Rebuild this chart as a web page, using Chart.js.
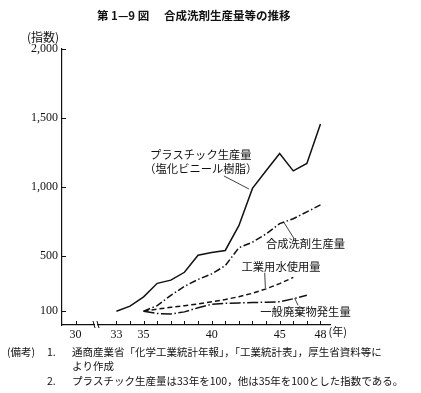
<!DOCTYPE html>
<html>
<head>
<meta charset="utf-8">
<script src="https://cdn.jsdelivr.net/npm/chart.js@4"></script>
<style>
html, body { margin: 0; padding: 0; background: #fff; }
#wrap { width: 421px; height: 393px; position: relative; }
</style>
</head>
<body>
<div id="wrap"><canvas id="myChart"></canvas></div>
<script>
// years (昭和) and index values
const years = [33, 34, 35, 36, 37, 38, 39, 40, 41, 42, 43, 44, 45, 46, 47, 48];
const plastics  = [100, 137, 204, 302, 325, 382, 506, 525, 540, 720, 990, 1118, 1243, 1117, 1171, 1456];
const detergent = [null, null, 100, 140, 215, 280, 330, 370, 430, 560, 600, 660, 735, 770, 820, 870];
const water     = [null, null, 100, 115, 128, 140, 152, 168, 185, 205, 230, 262, 300, 345, null, null];
const waste     = [null, null, 100, 83, 80, 95, 125, 150, 157, 160, 163, 165, 168, 190, 215, null];

const xTicks = [30, 33, 34, 35, 36, 37, 38, 39, 40, 41, 42, 43, 44, 45, 46, 47, 48];
const xLabels = { 30: '30', 33: '33', 35: '35', 40: '40', 45: '45', 48: '48' };
const yTicks = [100, 500, 1000, 1500, 2000];

const ink = '#111';
const JP = '"Noto Sans CJK JP", sans-serif';
const NUM = '"Liberation Serif", serif';

// labels with leader lines, placed in data coordinates
const callouts = [
  { lines: ['プラスチック生産量', '（塩化ビニール樹脂）'], at: [39.2, 1235], step: 100,
    lead: [[40.9, 1080], [42.75, 985]] },
  { lines: ['合成洗剤生産量'], at: [46.9, 590], step: 0, lead: [[45.3, 745], [46.1, 620]] },
  { lines: ['工業用水使用量'], at: [45.1, 420], step: 0, lead: [[43.9, 378], [43.95, 268]] },
  { lines: ['一般廃棄物発生量'], at: [46.9, 95], step: 0, lead: [[46.1, 195], [46.35, 143]] }
];

function pts(vals) {
  return years.map((yr, i) => ({ x: yr, y: vals[i] }));
}

function seg(ctx, x1, y1, x2, y2) {
  ctx.beginPath();
  ctx.moveTo(x1, y1);
  ctx.lineTo(x2, y2);
  ctx.stroke();
}

const decor = {
  id: 'decor',
  afterDraw(chart) {
    const ctx = chart.ctx;
    const a = chart.chartArea;
    const x = chart.scales.x, y = chart.scales.y;
    ctx.save();
    ctx.strokeStyle = ink;
    ctx.fillStyle = ink;
    ctx.lineWidth = 1;
    // ticks point into the plot
    y.ticks.forEach(t => {
      const py = Math.round(y.getPixelForValue(t.value)) + 0.5;
      seg(ctx, a.left, py, a.left + 4, py);
    });
    x.ticks.forEach(t => {
      const px = Math.round(x.getPixelForValue(t.value)) + 0.5;
      seg(ctx, px, a.bottom, px, a.bottom - 4);
    });
    // axis break between 30 and 33
    const bx = x.getPixelForValue(31.5);
    ctx.fillStyle = '#fff';
    ctx.fillRect(bx - 1, a.bottom - 2, 2, 4);
    ctx.fillStyle = ink;
    seg(ctx, bx - 3, a.bottom - 4, bx - 1, a.bottom + 3);
    seg(ctx, bx + 1, a.bottom - 4, bx + 3, a.bottom + 3);

    // (年) after the last tick label
    ctx.font = '11px ' + JP;
    ctx.textBaseline = 'middle';
    ctx.textAlign = 'left';
    ctx.fillText('(年)', x.getPixelForValue(48) + 8, 332);

    // callouts
    ctx.font = '11.3px ' + JP;
    ctx.textAlign = 'center';
    callouts.forEach(c => {
      const cx = x.getPixelForValue(c.at[0]);
      c.lines.forEach((s, i) => {
        ctx.fillText(s, cx, y.getPixelForValue(c.at[1] - i * c.step));
      });
      ctx.lineWidth = 0.8;
      seg(ctx, x.getPixelForValue(c.lead[0][0]), y.getPixelForValue(c.lead[0][1]),
               x.getPixelForValue(c.lead[1][0]), y.getPixelForValue(c.lead[1][1]));
    });

    // title, unit, notes
    ctx.textAlign = 'left';
    ctx.font = 'bold 11.5px ' + JP;
    ctx.fillText('第 1—9 図', 97, 16);
    ctx.fillText('合成洗剤生産量等の推移', 164, 16);
    ctx.font = '12px ' + JP;
    ctx.fillText('(指数)', 27, 37);
    ctx.font = '10.5px ' + JP;
    ctx.fillText('(備考)', 7, 352);
    ctx.fillText('1.', 47, 352);
    ctx.fillText('通商産業省「化学工業統計年報」，「工業統計表」，厚生省資料等に', 72, 352);
    ctx.fillText('より作成', 72, 366);
    ctx.fillText('2.', 47, 381);
    ctx.fillText('プラスチック生産量は33年を100，他は35年を100とした指数である。', 72, 381);
    ctx.restore();
  }
};

const lineSet = (label, vals, dash) => ({
  label: label,
  data: pts(vals),
  borderColor: ink,
  borderWidth: 1.5,
  borderDash: dash,
  pointRadius: 0,
  fill: false,
  tension: 0
});

const ctx = document.getElementById('myChart').getContext('2d');
const chart = new Chart(ctx, {
  type: 'line',
  data: {
    datasets: [
      lineSet('プラスチック生産量', plastics, []),
      lineSet('合成洗剤生産量', detergent, [7, 2.5, 1.5, 2.5]),
      lineSet('工業用水使用量', water, [5, 3]),
      lineSet('一般廃棄物発生量', waste, [11, 2.5, 1.5, 2.5])
    ]
  },
  options: {
    responsive: true,
    maintainAspectRatio: false,
    devicePixelRatio: 1,
    animation: false,
    layout: { padding: { left: 0, top: 49, right: 91, bottom: 48 } },
    plugins: { legend: { display: false }, tooltip: { enabled: false } },
    scales: {
      x: {
        type: 'linear',
        min: 29,
        max: 48.7,
        afterFit: s => { s.height = 20; },
        afterBuildTicks: s => { s.ticks = xTicks.map(v => ({ value: v })); },
        grid: { drawOnChartArea: false, drawTicks: false },
        border: { color: ink, width: 1.2 },
        ticks: {
          autoSkip: false, maxRotation: 0, padding: 3, color: ink,
          font: { family: NUM, size: 12 },
          callback: v => xLabels[v] || ''
        }
      },
      y: {
        type: 'linear',
        min: 0,
        max: 2000,
        afterFit: s => { s.width = 62; },
        afterBuildTicks: s => { s.ticks = yTicks.map(v => ({ value: v })); },
        grid: { drawOnChartArea: false, drawTicks: false },
        border: { color: ink, width: 1.2 },
        ticks: {
          padding: 4, color: ink,
          font: { family: NUM, size: 12 },
          callback: v => v.toLocaleString('en-US')
        }
      }
    }
  },
  plugins: [decor]
});
</script>
</body>
</html>
